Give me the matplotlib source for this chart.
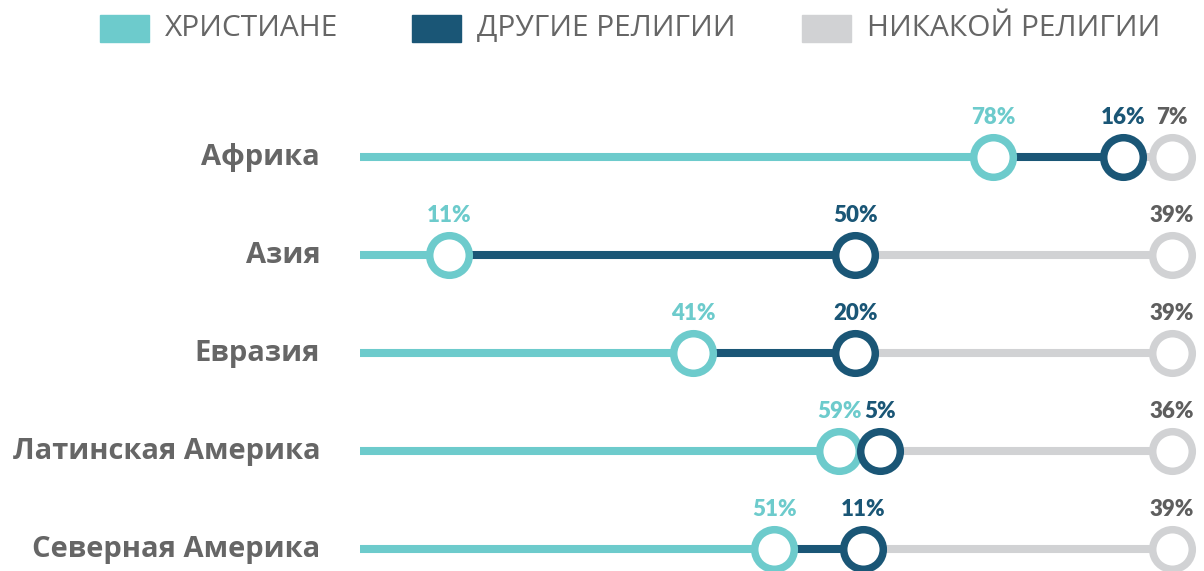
import numpy as np
import matplotlib
matplotlib.use("Agg")
import matplotlib.pyplot as plt
from matplotlib.patches import Rectangle

# data
regions = ['Африка', 'Азия', 'Евразия', 'Латинская Америка', 'Северная Америка']
christian = [78, 11, 41, 59, 51]
other = [16, 50, 20, 5, 11]
no_religion = [7, 39, 39, 36, 39]
legend_labels = ['ХРИСТИАНЕ', 'ДРУГИЕ РЕЛИГИИ', 'НИКАКОЙ РЕЛИГИИ']

TEAL = '#6dcbcc'
DARK = '#1a5676'
GREY = '#d1d2d4'
TEXT = '#666666'
colors = [TEAL, DARK, GREY]
label_colors = [TEAL, DARK, '#5e5e5e']

fig = plt.figure(figsize=(12.04, 5.71), dpi=100)
ax = fig.add_axes([360 / 1204, 0, 812 / 1204, 1])
ax.set_xlim(0, 100)
ax.set_ylim(4.224, -1.602)
ax.axis('off')

c = np.array(christian)
o = np.array(other)
n = np.array(no_religion)
ends = [c, c + o, np.minimum(c + o + n, 100)]
starts = [np.zeros_like(c), c, c + o]
shares = [c, o, n]

for i, reg in enumerate(regions):
    for k in range(3):
        ax.plot([starts[k][i], ends[k][i]], [i, i], color=colors[k], lw=5.8,
                solid_capstyle='butt', zorder=1, clip_on=False)
    for k in range(3):
        ax.plot(ends[k][i], i, 'o', ms=28.5, mew=5.4, mfc='white', mec=colors[k],
                zorder=3, clip_on=False)
        ax.text(ends[k][i], i - 0.40, f'{shares[k][i]}%', ha='center', va='center',
                fontsize=16, fontweight='heavy', family='Lato', color=label_colors[k])
    ax.text(-4.9, i, reg, ha='right', va='center', fontsize=21, fontweight='bold',
            family='Open Sans', color=TEXT)

# legend across the top
leg_x = [100, 412, 802]
for x, lab, col in zip(leg_x, legend_labels, colors):
    fig.patches.append(Rectangle((x / 1204, 1 - 42 / 571), 49 / 1204, 27 / 571,
                                 transform=fig.transFigure, color=col))
    fig.text((x + 65) / 1204, 1 - 28 / 571, lab, ha='left', va='center',
             fontsize=21.5, family='Open Sans', color=TEXT)

fig.savefig('out.png', dpi=100)
